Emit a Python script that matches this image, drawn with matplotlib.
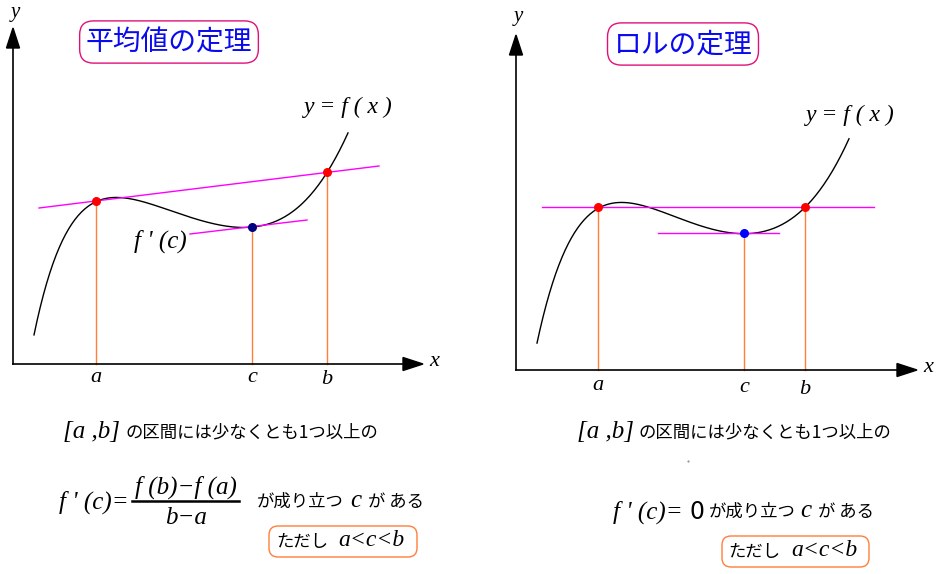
import numpy as np
import matplotlib.pyplot as plt
from matplotlib.patches import FancyBboxPatch

# Curve samples (pixel coords, y down)
left_cx = [34, 43, 53, 63, 78, 96, 118, 137, 170, 203, 227, 251, 280, 307, 327, 337, 348]
left_cy = [337, 293, 263, 240, 218, 201.5, 196.7, 199.3, 210.7, 221.7, 226.7, 226.7, 218.3, 200, 172.3, 155, 133]
right_cx = [537, 548, 562, 575, 598, 622, 645, 675, 708, 744, 772, 792, 806, 825, 849]
right_cy = [343, 298, 258, 232, 207.3, 203.3, 206, 216.7, 228.3, 233.3, 228.3, 219.3, 207, 181.7, 139]

# marked points a, c, b
left_px = [96, 252, 327]
left_py = [201, 227, 172]
right_px = [598, 744, 805]
right_py = [207, 233, 207]
labels = ["a", "c", "b"]

# secant / tangent lines
left_sec_x = [39, 379]
left_sec_y = [208, 166]
left_tan_x = [190, 307]
left_tan_y = [234, 220]
right_sec_x = [542, 874]
right_sec_y = [207, 207]
right_tan_x = [658, 779]
right_tan_y = [233, 233]

CJK = ["Noto Sans CJK JP", "DejaVu Sans"]
SERIF = "Liberation Serif"
ORANGE = "#ff7f3a"
MAGENTA = "#ff00ff"

fig = plt.figure(figsize=(9.4, 5.74), dpi=100)
ax = fig.add_axes([0, 0, 1, 1])
ax.set_xlim(0, 940)
ax.set_ylim(574, 0)
ax.axis("off")


def math(x, y, s, size=17, ha="left", **kw):
    ax.text(x, y, s, family=SERIF, style="italic", fontsize=size, ha=ha, va="center", **kw)


def jp(x, y, s, ha="left"):
    ax.text(x, y, s, family=CJK, fontsize=12.5, ha=ha, va="center")


def arrow_axes(x0, y0, x_end, y_top):
    ax.plot([x0, x_end - 18], [y0, y0], color="black", lw=1.2)
    ax.plot([x0, x0], [y0, y_top + 18], color="black", lw=1.2)
    ax.fill([x_end - 20, x_end, x_end - 20], [y0 - 6.5, y0, y0 + 6.5], color="black")
    ax.fill([x0 - 6.5, x0, x0 + 6.5], [y_top + 20, y_top, y_top + 20], color="black")


def panel(cx, cy, px, py, sx, sy, tx, ty, c_color, y_axis):
    xs = np.linspace(min(cx), max(cx), 300)
    coef = np.polyfit(cx, cy, 6)
    ax.plot(xs, np.polyval(coef, xs), color="black", lw=1)
    ax.plot(sx, sy, color=MAGENTA, lw=1)
    ax.plot(tx, ty, color=MAGENTA, lw=1)
    for x, y in zip(px, py):
        ax.plot([x, x], [y, y_axis], color=ORANGE, lw=1, zorder=1)
    ax.scatter([px[0], px[2]], [py[0], py[2]], s=30, color="red", zorder=5)
    ax.scatter([px[1]], [py[1]], s=30, color=c_color, zorder=5)


def title(x, y, s):
    ax.text(x, y, s, family=CJK, fontsize=20, color="#0a0aee", ha="center", va="center",
            bbox=dict(boxstyle="round,pad=0.22,rounding_size=0.5", fc="white", ec="#e0107a", lw=1))


def note_box(x, y, w, h):
    ax.add_patch(FancyBboxPatch((x, y), w, h, boxstyle="round,pad=0,rounding_size=9",
                                fc="none", ec=ORANGE, lw=1))


# ---- left panel ----
arrow_axes(13, 364, 423, 28)
panel(left_cx, left_cy, left_px, left_py, left_sec_x, left_sec_y,
      left_tan_x, left_tan_y, "#000080", 364)
math(15, 13, "y", 15, "center")
math(434, 362, "x", 16, "center")
for x, lab, dy in zip(left_px, labels, [378, 378, 380]):
    math(x, dy, lab, 16, "center")
title(169, 42, "平均値の定理")
math(348, 107, "y = f ( x )", 17, "center")
math(160, 241, "f ' (c)", 18, "center")

math(63, 432, "[a ,b]", 18)
jp(125, 432, "の区間には少なくとも1つ以上の")
math(59, 502, "f ' (c)=", 18)
math(186, 487, "f (b)−f (a)", 18, "center")
ax.plot([132, 239], [501, 501], color="black", lw=1.8)
math(186, 518, "b−a", 18, "center")
jp(257, 502, "が成り立つ")
math(356, 501, "c", 18, "center")
jp(368, 502, "が ある")
jp(328, 542, "ただし", "right")
math(338, 541, "a<c<b", 17)
note_box(269, 526, 148, 31)

# ---- right panel ----
arrow_axes(516, 370, 917, 35)
panel(right_cx, right_cy, right_px, right_py, right_sec_x, right_sec_y,
      right_tan_x, right_tan_y, "#0000ff", 370)
math(518, 16, "y", 15, "center")
math(928, 368, "x", 16, "center")
for x, lab, dy in zip(right_px, labels, [385, 387, 390]):
    math(x, dy, lab, 16, "center")
title(683, 44, "ロルの定理")
math(850, 115, "y = f ( x )", 17, "center")

math(577, 432, "[a ,b]", 18)
jp(638, 432, "の区間には少なくとも1つ以上の")
ax.plot([688], [461], marker=".", ms=1, color="gray")
math(613, 512, "f ' (c)=", 18)
ax.text(697, 512, "0", family="DejaVu Sans", fontsize=17, ha="center", va="center")
jp(709, 512, "が成り立つ")
math(806, 511, "c", 18, "center")
jp(818, 512, "が ある")
jp(780, 552, "ただし", "right")
math(791, 551, "a<c<b", 17)
note_box(722, 536, 147, 31)

fig.savefig("out.png", dpi=100)
